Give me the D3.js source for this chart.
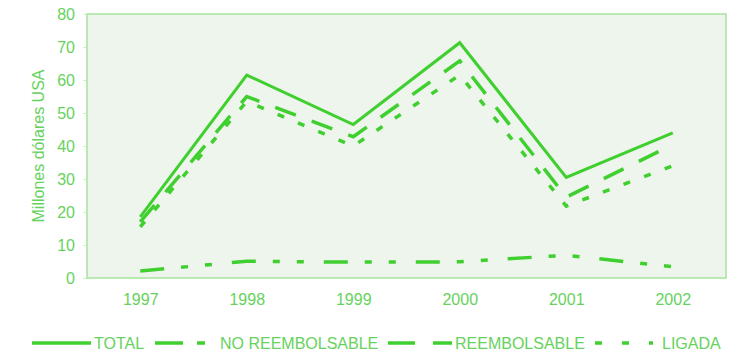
<!DOCTYPE html>
<html>
<head>
<meta charset="utf-8">
<script src="https://cdn.jsdelivr.net/npm/d3@7"></script>
<style>
  html, body { margin: 0; padding: 0; background: #ffffff; }
  svg { display: block; font-family: "Liberation Sans", Arial, sans-serif; }
</style>
</head>
<body>
<svg id="chart" width="745" height="357"></svg>
<script>
// Years on the horizontal axis
const years = ["1997", "1998", "1999", "2000", "2001", "2002"];

// Series values, millions of US dollars
const total          = [18.5, 61.5, 46.5, 71.3, 30.5, 44.0];
const noReembolsable = [2.1, 5.1, 4.8, 4.9, 6.9, 3.4];
const reembolsable   = [17.0, 55.0, 42.8, 65.8, 24.5, 40.4];
const ligada         = [15.5, 53.5, 40.0, 61.5, 21.8, 34.0];

// Y axis ticks
const yTicks = [0, 10, 20, 30, 40, 50, 60, 70, 80];

const seriesNames = ["TOTAL", "NO REEMBOLSABLE", "REEMBOLSABLE", "LIGADA"];

const lineColor = "#3fcf2f";
const textColor = "#66d25d";
const frameColor = "#a6e49d";
const fontSize = "16px";

const width = 745, height = 357;
const margin = { top: 14, right: 19, bottom: 79, left: 87 };
const innerW = width - margin.left - margin.right;
const innerH = height - margin.top - margin.bottom;

const svg = d3.select("#chart");
const g = svg.append("g").attr("transform", `translate(${margin.left},${margin.top})`);

const x = d3.scalePoint().domain(years).range([0, innerW]).padding(0.5);
const y = d3.scaleLinear().domain([0, 80]).range([innerH, 0]);

// Plot area background and frame
g.append("rect")
  .attr("x", 0).attr("y", 0)
  .attr("width", innerW).attr("height", innerH)
  .attr("fill", "#eef5ec")
  .attr("stroke", frameColor)
  .attr("stroke-width", 1.5);

// Y axis labels
const yAxis = d3.axisLeft(y).tickValues(yTicks).tickSize(4).tickPadding(8);
const yG = g.append("g").call(yAxis);
yG.select(".domain").remove();
yG.selectAll(".tick line").attr("stroke", frameColor).attr("stroke-opacity", 0.5);
yG.selectAll(".tick text")
  .attr("fill", textColor)
  .style("font-size", fontSize)
  .style("font-family", "'Liberation Sans', Arial, sans-serif");

// X axis labels
const xAxis = d3.axisBottom(x).tickSize(0).tickPadding(16);
const xG = g.append("g").attr("transform", `translate(0,${innerH})`).call(xAxis);
xG.select(".domain").remove();
xG.selectAll(".tick text")
  .attr("fill", textColor)
  .style("font-size", fontSize)
  .style("font-family", "'Liberation Sans', Arial, sans-serif");

// Y axis title
svg.append("text")
  .attr("transform", `translate(40,${margin.top + innerH / 2}) rotate(-90)`)
  .attr("text-anchor", "middle")
  .attr("dominant-baseline", "middle")
  .attr("fill", textColor)
  .style("font-size", fontSize)
  .text("Millones dólares USA");

// Lines
const line = d3.line()
  .x((d, i) => x(years[i]))
  .y(d => y(d));

const series = [
  { name: seriesNames[0], values: total,          dash: null,              legendDash: null,         w: 3 },
  { name: seriesNames[1], values: noReembolsable, dash: "24,17,7,17,7,20", legendDash: "28,14,8,30", w: 3.5 },
  { name: seriesNames[2], values: reembolsable,   dash: "22,17",           legendDash: "27,18",      w: 3.5 },
  { name: seriesNames[3], values: ligada,         dash: "7,15",            legendDash: "7,20",       w: 3.5 }
];

g.selectAll("path.series")
  .data(series)
  .join("path")
  .attr("class", "series")
  .attr("d", d => line(d.values))
  .attr("fill", "none")
  .attr("stroke", lineColor)
  .attr("stroke-width", d => d.w)
  .attr("stroke-linejoin", "miter")
  .attr("stroke-dasharray", d => d.dash);

// Legend
const legendY = 343;
const legendItems = [
  { s: series[0], x1: 32,  x2: 91,  tx: 94 },
  { s: series[1], x1: 155, x2: 213, tx: 220 },
  { s: series[2], x1: 388, x2: 452, tx: 455 },
  { s: series[3], x1: 595, x2: 653, tx: 662 }
];

const lg = svg.append("g");
legendItems.forEach(it => {
  lg.append("line")
    .attr("x1", it.x1).attr("x2", it.x2)
    .attr("y1", legendY).attr("y2", legendY)
    .attr("stroke", lineColor)
    .attr("stroke-width", 3.5)
    .attr("stroke-dasharray", it.s.legendDash);
  lg.append("text")
    .attr("x", it.tx).attr("y", legendY)
    .attr("dominant-baseline", "central")
    .attr("fill", textColor)
    .style("font-size", fontSize)
    .text(it.s.name);
});
</script>
</body>
</html>
